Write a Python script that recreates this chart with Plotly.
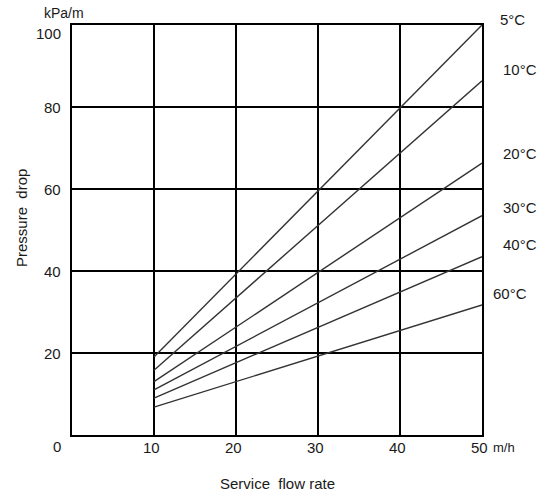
import plotly.graph_objects as go

# Data
temps = ["5°C", "10°C", "20°C", "30°C", "40°C", "60°C"]
flow = [10, 50]
drop_5 = [19.0, 100.0]
drop_10 = [15.8, 86.4]
drop_20 = [13.0, 66.3]
drop_30 = [11.0, 53.5]
drop_40 = [9.0, 43.5]
drop_60 = [6.8, 31.7]
series = [drop_5, drop_10, drop_20, drop_30, drop_40, drop_60]

x_ticks = [0, 10, 20, 30, 40, 50]
y_ticks = [0, 20, 40, 60, 80, 100]

FONT = "Liberation Sans, Arial, sans-serif"
TXT = "#1a1a1a"
FS = 15

fig = go.Figure()
for name, ys in zip(temps, series):
    fig.add_trace(go.Scatter(x=flow, y=ys, mode="lines", name=name,
                             line=dict(color="#333333", width=1.4),
                             showlegend=False, hoverinfo="skip"))

ann = []
# temperature labels at the right end of each line
label_shift = [6, 11, 10, 8, 12, 12]
label_dx = [30, 38, 38, 38, 38, 28]
for name, ys, dy, dx in zip(temps, series, label_shift, label_dx):
    ann.append(dict(x=flow[-1], y=ys[-1], xref="x", yref="y", text=name,
                    showarrow=False, xanchor="center", yanchor="middle",
                    xshift=dx, yshift=dy,
                    font=dict(family=FONT, size=FS, color=TXT)))

# y tick labels
for v in y_ticks:
    shift = 0
    if v == 100:
        shift = -8
    if v == 0:
        shift = -11
    ann.append(dict(x=0, y=v, xref="paper", yref="y", text=str(v),
                    showarrow=False, xanchor="right", yanchor="middle",
                    xshift=-9, yshift=shift,
                    font=dict(family=FONT, size=FS, color=TXT)))
# x tick labels
for v in x_ticks[1:]:
    ann.append(dict(x=v, y=0, xref="x", yref="paper", text=str(v),
                    showarrow=False, xanchor="center", yanchor="middle",
                    xshift=-3, yshift=-12,
                    font=dict(family=FONT, size=FS, color=TXT)))

ann.append(dict(x=50, y=0, xref="x", yref="paper", text="m/h",
                showarrow=False, xanchor="left", yanchor="middle",
                xshift=9, yshift=-12,
                font=dict(family=FONT, size=13, color=TXT)))
ann.append(dict(x=0, y=1, xref="paper", yref="paper", text="kPa/m",
                showarrow=False, xanchor="center", yanchor="middle",
                xshift=-8, yshift=12,
                font=dict(family=FONT, size=14, color=TXT)))
ann.append(dict(x=0, y=0.5, xref="paper", yref="paper",
                text="Pressure\u00a0\u00a0drop", textangle=-90,
                showarrow=False, xanchor="center", yanchor="middle",
                xshift=-51, yshift=12,
                font=dict(family=FONT, size=FS, color=TXT)))
ann.append(dict(x=0.5, y=0, xref="paper", yref="paper",
                text="Service\u00a0\u00a0flow rate",
                showarrow=False, xanchor="center", yanchor="middle",
                xshift=0, yshift=-48,
                font=dict(family=FONT, size=FS, color=TXT)))

fig.update_layout(
    width=545, height=493,
    margin=dict(l=72, r=63, t=25, b=58),
    paper_bgcolor="white", plot_bgcolor="white",
    annotations=ann,
    xaxis=dict(range=[0, 50], tickvals=x_ticks, showticklabels=False,
               showgrid=True, gridcolor="black", gridwidth=1.6,
               showline=True, linecolor="black", linewidth=2, mirror=True,
               zeroline=False, ticks="", fixedrange=True),
    yaxis=dict(range=[0, 100], tickvals=y_ticks, showticklabels=False,
               showgrid=True, gridcolor="black", gridwidth=1.6,
               showline=True, linecolor="black", linewidth=2, mirror=True,
               zeroline=False, ticks="", fixedrange=True),
)

# remove the browser's default 8px body margin so the figure fills the window
fig.write_html("out.html",
               config={"displayModeBar": False, "staticPlot": True},
               post_script="document.body.style.margin='0';"
                           "document.body.style.overflow='hidden';")
